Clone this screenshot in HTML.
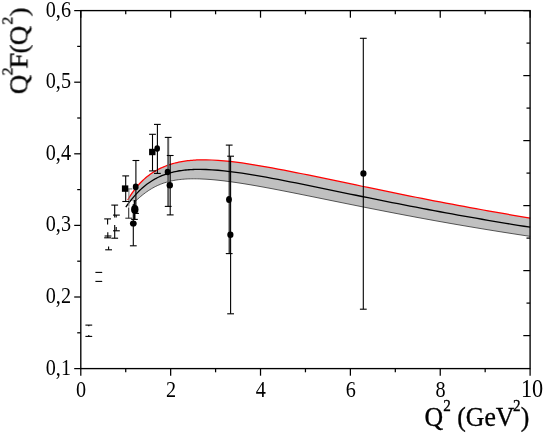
<!DOCTYPE html>
<html><head><meta charset="utf-8"><style>
html,body{margin:0;padding:0;background:#fff;}
svg{display:block;}
text{font-family:"Liberation Serif",serif;fill:#000;}
</style></head><body>
<svg width="545" height="436" viewBox="0 0 545 436">
<rect width="545" height="436" fill="#fff"/>
<g>
<polygon points="127.7,200.05 129.2,197.50 130.7,195.11 132.2,192.87 133.7,190.77 135.2,188.79 136.7,186.93 138.2,185.18 139.7,183.53 141.2,181.98 142.7,180.51 144.2,179.13 145.7,177.82 147.2,176.59 148.7,175.43 150.2,174.33 151.7,173.29 153.2,172.31 154.7,171.38 156.2,170.51 157.7,169.68 159.2,168.90 160.7,168.17 162.2,167.48 163.7,166.83 165.2,166.22 166.7,165.64 168.2,165.10 169.7,164.60 171.2,164.12 172.7,163.68 174.2,163.27 175.7,162.88 177.2,162.53 178.7,162.20 180.2,161.89 181.7,161.61 183.2,161.35 184.7,161.12 186.2,160.91 187.7,160.72 189.2,160.55 190.7,160.40 192.2,160.27 193.7,160.15 195.2,160.06 196.7,159.98 198.2,159.91 199.7,159.87 200.0,159.86 206.0,159.83 212.0,160.00 218.0,160.34 224.0,160.82 230.0,161.43 236.0,162.14 242.0,162.94 248.0,163.82 254.0,164.77 260.0,165.77 266.0,166.82 272.0,167.90 278.0,169.02 284.0,170.18 290.0,171.35 296.0,172.54 302.0,173.76 308.0,174.98 314.0,176.22 320.0,177.46 326.0,178.71 332.0,179.96 338.0,181.22 344.0,182.47 350.0,183.73 356.0,184.98 362.0,186.24 368.0,187.48 374.0,188.73 380.0,189.96 386.0,191.19 392.0,192.42 398.0,193.64 404.0,194.85 410.0,196.05 416.0,197.24 422.0,198.42 428.0,199.60 434.0,200.77 440.0,201.92 446.0,203.07 452.0,204.21 458.0,205.33 464.0,206.45 470.0,207.56 476.0,208.65 482.0,209.74 488.0,210.82 494.0,211.88 500.0,212.94 506.0,213.98 512.0,215.02 518.0,216.04 524.0,217.06 530.2,218.09 530.2,236.36 524.0,235.43 518.0,234.52 512.0,233.59 506.0,232.65 500.0,231.71 494.0,230.74 488.0,229.77 482.0,228.79 476.0,227.79 470.0,226.78 464.0,225.76 458.0,224.73 452.0,223.69 446.0,222.63 440.0,221.57 434.0,220.49 428.0,219.40 422.0,218.30 416.0,217.19 410.0,216.06 404.0,214.93 398.0,213.79 392.0,212.64 386.0,211.47 380.0,210.30 374.0,209.12 368.0,207.94 362.0,206.74 356.0,205.54 350.0,204.33 344.0,203.12 338.0,201.90 332.0,200.69 326.0,199.46 320.0,198.24 314.0,197.02 308.0,195.81 302.0,194.60 296.0,193.39 290.0,192.20 284.0,191.02 278.0,189.85 272.0,188.70 266.0,187.58 260.0,186.48 254.0,185.42 248.0,184.40 242.0,183.43 236.0,182.51 230.0,181.66 224.0,180.89 218.0,180.21 212.0,179.64 206.0,179.20 200.0,178.91 199.3,178.88 197.8,178.84 196.3,178.82 194.8,178.80 193.3,178.80 191.8,178.81 190.3,178.84 188.8,178.89 187.3,178.95 185.8,179.03 184.3,179.13 182.8,179.24 181.3,179.38 179.8,179.54 178.3,179.73 176.8,179.94 175.3,180.18 173.8,180.44 172.3,180.74 170.8,181.06 169.3,181.42 167.8,181.81 166.3,182.24 164.8,182.70 163.3,183.21 161.8,183.75 160.3,184.34 158.8,184.97 157.3,185.64 155.8,186.36 154.3,187.13 152.8,187.95 151.3,188.82 149.8,189.74 148.3,190.71 146.8,191.74 145.3,192.82 143.8,193.96 142.3,195.14 140.8,196.38 139.3,197.68 137.8,199.02 136.3,200.40 134.8,201.82" fill="#c0c0c0" stroke="none"/>
<polyline points="134.8,201.82 136.3,200.40 137.8,199.02 139.3,197.68 140.8,196.38 142.3,195.14 143.8,193.96 145.3,192.82 146.8,191.74 148.3,190.71 149.8,189.74 151.3,188.82 152.8,187.95 154.3,187.13 155.8,186.36 157.3,185.64 158.8,184.97 160.3,184.34 161.8,183.75 163.3,183.21 164.8,182.70 166.3,182.24 167.8,181.81 169.3,181.42 170.8,181.06 172.3,180.74 173.8,180.44 175.3,180.18 176.8,179.94 178.3,179.73 179.8,179.54 181.3,179.38 182.8,179.24 184.3,179.13 185.8,179.03 187.3,178.95 188.8,178.89 190.3,178.84 191.8,178.81 193.3,178.80 194.8,178.80 196.3,178.82 197.8,178.84 199.3,178.88 200.0,178.91 206.0,179.20 212.0,179.64 218.0,180.21 224.0,180.89 230.0,181.66 236.0,182.51 242.0,183.43 248.0,184.40 254.0,185.42 260.0,186.48 266.0,187.58 272.0,188.70 278.0,189.85 284.0,191.02 290.0,192.20 296.0,193.39 302.0,194.60 308.0,195.81 314.0,197.02 320.0,198.24 326.0,199.46 332.0,200.69 338.0,201.90 344.0,203.12 350.0,204.33 356.0,205.54 362.0,206.74 368.0,207.94 374.0,209.12 380.0,210.30 386.0,211.47 392.0,212.64 398.0,213.79 404.0,214.93 410.0,216.06 416.0,217.19 422.0,218.30 428.0,219.40 434.0,220.49 440.0,221.57 446.0,222.63 452.0,223.69 458.0,224.73 464.0,225.76 470.0,226.78 476.0,227.79 482.0,228.79 488.0,229.77 494.0,230.74 500.0,231.71 506.0,232.65 512.0,233.59 518.0,234.52 524.0,235.43 530.2,236.36" fill="none" stroke="#303030" stroke-width="0.8"/>
<polyline points="125.8,207.12 127.3,205.00 128.8,202.97 130.3,201.00 131.8,199.11 133.3,197.30 134.8,195.57 136.3,193.91 137.8,192.33 139.3,190.83 140.8,189.39 142.3,188.02 143.8,186.73 145.3,185.50 146.8,184.33 148.3,183.22 149.8,182.18 151.3,181.19 152.8,180.26 154.3,179.38 155.8,178.55 157.3,177.77 158.8,177.04 160.3,176.35 161.8,175.71 163.3,175.10 164.8,174.54 166.3,174.02 167.8,173.53 169.3,173.08 170.8,172.66 172.3,172.27 173.8,171.91 175.3,171.58 176.8,171.28 178.3,171.01 179.8,170.76 181.3,170.53 182.8,170.33 184.3,170.15 185.8,170.00 187.3,169.86 188.8,169.74 190.3,169.64 191.8,169.56 193.3,169.49 194.8,169.44 196.3,169.41 197.8,169.39 199.3,169.38 200.0,169.38 206.0,169.51 212.0,169.82 218.0,170.27 224.0,170.85 230.0,171.54 236.0,172.33 242.0,173.19 248.0,174.11 254.0,175.10 260.0,176.13 266.0,177.20 272.0,178.30 278.0,179.44 284.0,180.60 290.0,181.77 296.0,182.97 302.0,184.18 308.0,185.39 314.0,186.62 320.0,187.85 326.0,189.09 332.0,190.32 338.0,191.56 344.0,192.80 350.0,194.03 356.0,195.26 362.0,196.49 368.0,197.71 374.0,198.92 380.0,200.13 386.0,201.33 392.0,202.53 398.0,203.71 404.0,204.89 410.0,206.06 416.0,207.21 422.0,208.36 428.0,209.50 434.0,210.63 440.0,211.74 446.0,212.85 452.0,213.95 458.0,215.03 464.0,216.11 470.0,217.17 476.0,218.22 482.0,219.26 488.0,220.29 494.0,221.31 500.0,222.32 506.0,223.32 512.0,224.30 518.0,225.28 524.0,226.24 530.2,227.23" fill="none" stroke="#000" stroke-width="1.3"/>
<polyline points="127.7,200.05 129.2,197.50 130.7,195.11 132.2,192.87 133.7,190.77 135.2,188.79 136.7,186.93 138.2,185.18 139.7,183.53 141.2,181.98 142.7,180.51 144.2,179.13 145.7,177.82 147.2,176.59 148.7,175.43 150.2,174.33 151.7,173.29 153.2,172.31 154.7,171.38 156.2,170.51 157.7,169.68 159.2,168.90 160.7,168.17 162.2,167.48 163.7,166.83 165.2,166.22 166.7,165.64 168.2,165.10 169.7,164.60 171.2,164.12 172.7,163.68 174.2,163.27 175.7,162.88 177.2,162.53 178.7,162.20 180.2,161.89 181.7,161.61 183.2,161.35 184.7,161.12 186.2,160.91 187.7,160.72 189.2,160.55 190.7,160.40 192.2,160.27 193.7,160.15 195.2,160.06 196.7,159.98 198.2,159.91 199.7,159.87 200.0,159.86 206.0,159.83 212.0,160.00 218.0,160.34 224.0,160.82 230.0,161.43 236.0,162.14 242.0,162.94 248.0,163.82 254.0,164.77 260.0,165.77 266.0,166.82 272.0,167.90 278.0,169.02 284.0,170.18 290.0,171.35 296.0,172.54 302.0,173.76 308.0,174.98 314.0,176.22 320.0,177.46 326.0,178.71 332.0,179.96 338.0,181.22 344.0,182.47 350.0,183.73 356.0,184.98 362.0,186.24 368.0,187.48 374.0,188.73 380.0,189.96 386.0,191.19 392.0,192.42 398.0,193.64 404.0,194.85 410.0,196.05 416.0,197.24 422.0,198.42 428.0,199.60 434.0,200.77 440.0,201.92 446.0,203.07 452.0,204.21 458.0,205.33 464.0,206.45 470.0,207.56 476.0,208.65 482.0,209.74 488.0,210.82 494.0,211.88 500.0,212.94 506.0,213.98 512.0,215.02 518.0,216.04 524.0,217.06 530.2,218.09" fill="none" stroke="#f00" stroke-width="1.25"/>
<line x1="128.9" y1="188.9" x2="128.9" y2="206.5" stroke="#777" stroke-width="1.0"/>
<line x1="125.5" y1="188.9" x2="132.3" y2="188.9" stroke="#777" stroke-width="1.1"/>
<line x1="128.7" y1="207.5" x2="128.7" y2="218.2" stroke="#333" stroke-width="1.1"/><line x1="125.29999999999998" y1="218.2" x2="132.1" y2="218.2" stroke="#333" stroke-width="1.1"/>
<line x1="168.2" y1="137.4" x2="168.2" y2="206.4" stroke="#606060" stroke-width="2.0"/>
<line x1="164.79999999999998" y1="137.4" x2="171.6" y2="137.4" stroke="#000" stroke-width="1.1"/>
<line x1="164.79999999999998" y1="206.4" x2="171.6" y2="206.4" stroke="#000" stroke-width="1.1"/>
<line x1="363.3" y1="38.3" x2="363.3" y2="309.2" stroke="#000" stroke-width="1.1"/><line x1="359.90000000000003" y1="38.3" x2="366.7" y2="38.3" stroke="#000" stroke-width="1.1"/><line x1="359.90000000000003" y1="309.2" x2="366.7" y2="309.2" stroke="#000" stroke-width="1.1"/>
<line x1="229.2" y1="145.1" x2="229.2" y2="253.6" stroke="#000" stroke-width="1.1"/><line x1="225.79999999999998" y1="145.1" x2="232.6" y2="145.1" stroke="#000" stroke-width="1.1"/><line x1="225.79999999999998" y1="253.6" x2="232.6" y2="253.6" stroke="#000" stroke-width="1.1"/>
<line x1="230.6" y1="156.2" x2="230.6" y2="313.8" stroke="#000" stroke-width="1.1"/><line x1="227.2" y1="156.2" x2="234.0" y2="156.2" stroke="#000" stroke-width="1.1"/><line x1="227.2" y1="313.8" x2="234.0" y2="313.8" stroke="#000" stroke-width="1.1"/>
<line x1="170.2" y1="155.5" x2="170.2" y2="214.9" stroke="#000" stroke-width="1.1"/><line x1="166.79999999999998" y1="155.5" x2="173.6" y2="155.5" stroke="#000" stroke-width="1.1"/><line x1="166.79999999999998" y1="214.9" x2="173.6" y2="214.9" stroke="#000" stroke-width="1.1"/>
<line x1="152.5" y1="134.3" x2="152.5" y2="170.9" stroke="#000" stroke-width="1.1"/><line x1="149.1" y1="134.3" x2="155.9" y2="134.3" stroke="#000" stroke-width="1.1"/><line x1="149.1" y1="170.9" x2="155.9" y2="170.9" stroke="#000" stroke-width="1.1"/>
<line x1="157.4" y1="124.4" x2="157.4" y2="173.4" stroke="#000" stroke-width="1.1"/><line x1="154.0" y1="124.4" x2="160.8" y2="124.4" stroke="#000" stroke-width="1.1"/><line x1="154.0" y1="173.4" x2="160.8" y2="173.4" stroke="#000" stroke-width="1.1"/>
<line x1="125.7" y1="175.9" x2="125.7" y2="201.5" stroke="#000" stroke-width="1.1"/><line x1="122.3" y1="175.9" x2="129.1" y2="175.9" stroke="#000" stroke-width="1.1"/><line x1="122.3" y1="201.5" x2="129.1" y2="201.5" stroke="#000" stroke-width="1.1"/>
<line x1="135.9" y1="160.5" x2="135.9" y2="213.2" stroke="#000" stroke-width="1.1"/>
<line x1="132.5" y1="160.5" x2="139.3" y2="160.5" stroke="#000" stroke-width="1.1"/>
<line x1="134.29999999999998" y1="213.4" x2="138.9" y2="213.4" stroke="#000" stroke-width="1.1"/>
<line x1="134.6" y1="200" x2="134.6" y2="219.5" stroke="#000" stroke-width="1.8"/>
<line x1="131.2" y1="219.4" x2="137.8" y2="219.4" stroke="#000" stroke-width="1.1"/>
<line x1="133.3" y1="204" x2="133.3" y2="245.8" stroke="#000" stroke-width="1.1"/><line x1="129.9" y1="245.8" x2="136.70000000000002" y2="245.8" stroke="#000" stroke-width="1.1"/>
<line x1="111.3" y1="205.1" x2="118.10000000000001" y2="205.1" stroke="#000" stroke-width="1.1"/>
<line x1="114.7" y1="205.1" x2="114.7" y2="217.5" stroke="#000" stroke-width="1.1"/>
<line x1="113.0" y1="215.1" x2="119.80000000000001" y2="215.1" stroke="#000" stroke-width="1.1"/>
<line x1="116.2" y1="215.1" x2="116.2" y2="217.5" stroke="#000" stroke-width="1.1"/>
<line x1="114.7" y1="225.1" x2="114.7" y2="238.2" stroke="#000" stroke-width="1.1"/>
<line x1="111.3" y1="238.2" x2="118.10000000000001" y2="238.2" stroke="#000" stroke-width="1.1"/>
<line x1="116.2" y1="227" x2="116.2" y2="230.8" stroke="#000" stroke-width="1.1"/>
<line x1="113.0" y1="230.8" x2="119.80000000000001" y2="230.8" stroke="#000" stroke-width="1.1"/>
<line x1="104.19999999999999" y1="218.9" x2="111.0" y2="218.9" stroke="#000" stroke-width="1.1"/>
<line x1="107.6" y1="218.9" x2="107.6" y2="224.6" stroke="#000" stroke-width="1.1"/>
<line x1="107.8" y1="232.2" x2="107.8" y2="238" stroke="#000" stroke-width="1.1"/>
<line x1="104.6" y1="236" x2="111.4" y2="236" stroke="#000" stroke-width="1.1"/>
<line x1="104.19999999999999" y1="237.8" x2="111.0" y2="237.8" stroke="#000" stroke-width="1.1"/>
<line x1="108.6" y1="246.6" x2="108.6" y2="249.8" stroke="#000" stroke-width="1.1"/>
<line x1="105.19999999999999" y1="249.8" x2="112.0" y2="249.8" stroke="#000" stroke-width="1.1"/>
<line x1="95.39999999999999" y1="272.4" x2="102.2" y2="272.4" stroke="#000" stroke-width="1.1"/>
<line x1="95.39999999999999" y1="281.4" x2="102.2" y2="281.4" stroke="#000" stroke-width="1.1"/>
<line x1="85.39999999999999" y1="325.1" x2="92.2" y2="325.1" stroke="#000" stroke-width="1.1"/>
<line x1="88.8" y1="325.1" x2="88.8" y2="326.3" stroke="#000" stroke-width="1.1"/>
<line x1="85.39999999999999" y1="336.4" x2="92.2" y2="336.4" stroke="#000" stroke-width="1.1"/>
<line x1="88.8" y1="335" x2="88.8" y2="336.4" stroke="#000" stroke-width="1.1"/>
<ellipse cx="363.4" cy="173.5" rx="3.1" ry="3.3" fill="#000"/>
<ellipse cx="229.0" cy="199.5" rx="2.9" ry="3.5" fill="#000"/>
<ellipse cx="230.4" cy="234.8" rx="3.1" ry="3.3" fill="#000"/>
<ellipse cx="167.6" cy="172.0" rx="2.9" ry="3.3" fill="#000"/>
<ellipse cx="169.8" cy="185.2" rx="3.2" ry="3.2" fill="#000"/>
<rect x="149.10000000000002" y="148.8" width="6.4" height="6.4" fill="#000"/>
<ellipse cx="157.2" cy="148.6" rx="2.8" ry="3.3" fill="#000"/>
<rect x="121.89999999999999" y="185.4" width="6.4" height="6.4" fill="#000"/>
<ellipse cx="135.7" cy="186.9" rx="2.9" ry="3.3" fill="#000"/>
<ellipse cx="134.8" cy="209.5" rx="3.7" ry="4.4" fill="#000"/>
<ellipse cx="133.3" cy="223.5" rx="3.4" ry="3.1" fill="#000"/>
</g>
<g>
<rect x="80.8" y="10.6" width="449.3" height="358.0" fill="none" stroke="#000" stroke-width="1.35"/>
<line x1="74.2" y1="10.60" x2="80.8" y2="10.60" stroke="#000" stroke-width="1.25"/>
<line x1="77.2" y1="46.40" x2="80.8" y2="46.40" stroke="#000" stroke-width="1.25"/>
<line x1="74.2" y1="82.20" x2="80.8" y2="82.20" stroke="#000" stroke-width="1.25"/>
<line x1="77.2" y1="118.00" x2="80.8" y2="118.00" stroke="#000" stroke-width="1.25"/>
<line x1="74.2" y1="153.80" x2="80.8" y2="153.80" stroke="#000" stroke-width="1.25"/>
<line x1="77.2" y1="189.60" x2="80.8" y2="189.60" stroke="#000" stroke-width="1.25"/>
<line x1="74.2" y1="225.40" x2="80.8" y2="225.40" stroke="#000" stroke-width="1.25"/>
<line x1="77.2" y1="261.20" x2="80.8" y2="261.20" stroke="#000" stroke-width="1.25"/>
<line x1="74.2" y1="297.00" x2="80.8" y2="297.00" stroke="#000" stroke-width="1.25"/>
<line x1="77.2" y1="332.80" x2="80.8" y2="332.80" stroke="#000" stroke-width="1.25"/>
<line x1="74.2" y1="368.60" x2="80.8" y2="368.60" stroke="#000" stroke-width="1.25"/>
<line x1="80.80" y1="368.6" x2="80.80" y2="375.70000000000005" stroke="#000" stroke-width="1.25"/>
<line x1="80.80" y1="10.6" x2="80.80" y2="17.7" stroke="#000" stroke-width="1.25"/>
<line x1="125.73" y1="368.6" x2="125.73" y2="372.3" stroke="#000" stroke-width="1.25"/>
<line x1="125.73" y1="10.6" x2="125.73" y2="14.3" stroke="#000" stroke-width="1.25"/>
<line x1="170.66" y1="368.6" x2="170.66" y2="375.70000000000005" stroke="#000" stroke-width="1.25"/>
<line x1="170.66" y1="10.6" x2="170.66" y2="17.7" stroke="#000" stroke-width="1.25"/>
<line x1="215.59" y1="368.6" x2="215.59" y2="372.3" stroke="#000" stroke-width="1.25"/>
<line x1="215.59" y1="10.6" x2="215.59" y2="14.3" stroke="#000" stroke-width="1.25"/>
<line x1="260.52" y1="368.6" x2="260.52" y2="375.70000000000005" stroke="#000" stroke-width="1.25"/>
<line x1="260.52" y1="10.6" x2="260.52" y2="17.7" stroke="#000" stroke-width="1.25"/>
<line x1="305.45" y1="368.6" x2="305.45" y2="372.3" stroke="#000" stroke-width="1.25"/>
<line x1="305.45" y1="10.6" x2="305.45" y2="14.3" stroke="#000" stroke-width="1.25"/>
<line x1="350.38" y1="368.6" x2="350.38" y2="375.70000000000005" stroke="#000" stroke-width="1.25"/>
<line x1="350.38" y1="10.6" x2="350.38" y2="17.7" stroke="#000" stroke-width="1.25"/>
<line x1="395.31" y1="368.6" x2="395.31" y2="372.3" stroke="#000" stroke-width="1.25"/>
<line x1="395.31" y1="10.6" x2="395.31" y2="14.3" stroke="#000" stroke-width="1.25"/>
<line x1="440.24" y1="368.6" x2="440.24" y2="375.70000000000005" stroke="#000" stroke-width="1.25"/>
<line x1="440.24" y1="10.6" x2="440.24" y2="17.7" stroke="#000" stroke-width="1.25"/>
<line x1="485.17" y1="368.6" x2="485.17" y2="372.3" stroke="#000" stroke-width="1.25"/>
<line x1="485.17" y1="10.6" x2="485.17" y2="14.3" stroke="#000" stroke-width="1.25"/>
<line x1="530.10" y1="368.6" x2="530.10" y2="375.70000000000005" stroke="#000" stroke-width="1.25"/>
<line x1="530.10" y1="10.6" x2="530.10" y2="17.7" stroke="#000" stroke-width="1.25"/>
<line x1="523.3000000000001" y1="10.60" x2="530.1" y2="10.60" stroke="#000" stroke-width="1.25"/>
<line x1="526.5" y1="43.10" x2="530.1" y2="43.10" stroke="#000" stroke-width="1.25"/>
<line x1="523.3000000000001" y1="75.60" x2="530.1" y2="75.60" stroke="#000" stroke-width="1.25"/>
<line x1="526.5" y1="108.10" x2="530.1" y2="108.10" stroke="#000" stroke-width="1.25"/>
<line x1="523.3000000000001" y1="140.60" x2="530.1" y2="140.60" stroke="#000" stroke-width="1.25"/>
<line x1="526.5" y1="173.10" x2="530.1" y2="173.10" stroke="#000" stroke-width="1.25"/>
<line x1="523.3000000000001" y1="205.60" x2="530.1" y2="205.60" stroke="#000" stroke-width="1.25"/>
<line x1="526.5" y1="238.10" x2="530.1" y2="238.10" stroke="#000" stroke-width="1.25"/>
<line x1="523.3000000000001" y1="270.60" x2="530.1" y2="270.60" stroke="#000" stroke-width="1.25"/>
<line x1="526.5" y1="303.10" x2="530.1" y2="303.10" stroke="#000" stroke-width="1.25"/>
<line x1="523.3000000000001" y1="335.60" x2="530.1" y2="335.60" stroke="#000" stroke-width="1.25"/>
</g>
<g style="opacity:0.999">
<text transform="translate(71.0,16.6) scale(0.878,1)" text-anchor="end" font-size="23">0,6</text>
<text transform="translate(71.0,88.2) scale(0.878,1)" text-anchor="end" font-size="23">0,5</text>
<text transform="translate(71.0,159.8) scale(0.878,1)" text-anchor="end" font-size="23">0,4</text>
<text transform="translate(71.0,231.4) scale(0.878,1)" text-anchor="end" font-size="23">0,3</text>
<text transform="translate(71.0,303.0) scale(0.878,1)" text-anchor="end" font-size="23">0,2</text>
<text transform="translate(71.0,374.6) scale(0.878,1)" text-anchor="end" font-size="23">0,1</text>
<text transform="translate(81.1,396.6) scale(0.856,1)" text-anchor="middle" font-size="23.6">0</text>
<text transform="translate(171.0,396.6) scale(0.856,1)" text-anchor="middle" font-size="23.6">2</text>
<text transform="translate(260.8,396.6) scale(0.856,1)" text-anchor="middle" font-size="23.6">4</text>
<text transform="translate(350.7,396.6) scale(0.856,1)" text-anchor="middle" font-size="23.6">6</text>
<text transform="translate(440.5,396.6) scale(0.856,1)" text-anchor="middle" font-size="23.6">8</text>
<text transform="translate(532.0,396.7) scale(0.856,1)" text-anchor="middle" font-size="26">10</text>
<text transform="translate(424.6,426.1) scale(0.92,1)" font-size="28" stroke="#000" stroke-width="0.35">Q<tspan font-size="16.5" dy="-15.5">2</tspan><tspan dy="15.5"> (GeV</tspan><tspan dx="-1.4" font-size="16.5" dy="-15.5">2</tspan><tspan dy="15.5">)</tspan></text>
<g stroke="#000" stroke-width="0.35" transform="translate(27.1,94.2) scale(0.9,1) rotate(-90)"><text transform="translate(0,0) scale(0.957,1)" font-size="28">Q</text><text transform="translate(18.8,-16.4) scale(0.957,1)" font-size="16.5">2</text><text transform="translate(25.55,0) scale(1.03,1)" font-size="28">F</text><text transform="translate(40.8,0) scale(0.957,1)" font-size="28">(</text><text transform="translate(49.1,0) scale(0.957,1)" font-size="28">Q</text><text transform="translate(69.6,-16.4) scale(0.957,1)" font-size="16.5">2</text><text transform="translate(77.8,0) scale(0.957,1)" font-size="28">)</text></g>
</g>
</svg>
</body></html>
